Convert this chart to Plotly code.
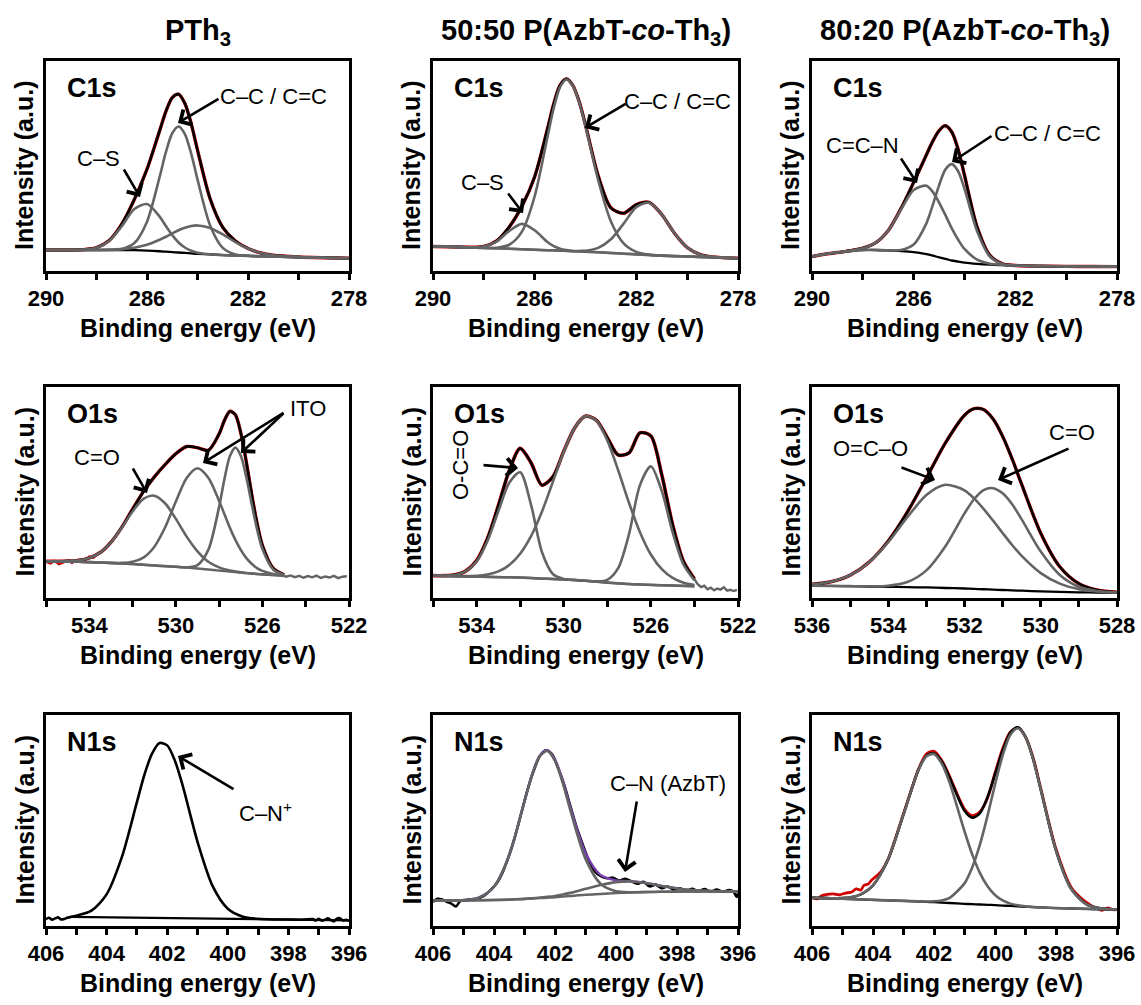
import plotly.graph_objects as go

# ---------------- DATA (y = % of panel height) ----------------
# Panel 1: PTh3 C1s
X1 = [290, 289, 288.5, 288, 287.5, 287, 286.5, 286, 285.5, 285.25, 285, 284.75, 284.5, 284.25, 284, 283.5, 283, 282.5, 282, 281.5, 281, 280, 279, 278]
B1 = [10, 10, 10, 10, 10, 10, 9.9, 9.7, 9.4, 9.2, 9.0, 8.8, 8.6, 8.4, 8.2, 7.9, 7.6, 7.4, 7.2, 7.0, 6.9, 6.6, 6.3, 6.1]
CS1 = [10, 10, 10.2, 11.1, 14.3, 21.3, 29.5, 31.9, 25.9, 21.4, 17.1, 13.6, 11.2, 9.65, 8.74, 7.97, 7.6, 7.4, 7.2, 7.0, 6.9, 6.6, 6.3, 6.1]
CC1 = [10, 10, 10, 10, 10.05, 10.5, 13.3, 23.5, 44.8, 56.7, 65.6, 68.8, 65.2, 55.9, 43.6, 21.7, 11.0, 7.9, 7.25, 7.0, 6.9, 6.6, 6.3, 6.1]
P31 = [10, 10, 10, 10.03, 10.13, 10.43, 11.1, 12.5, 14.9, 16.3, 17.9, 19.4, 20.6, 21.4, 21.7, 20.5, 17.4, 13.8, 10.7, 8.6, 7.5, 6.65, 6.3, 6.1]
E1 = [10, 10, 10.2, 11.1, 14.5, 22.3, 34.1, 48.5, 66.8, 76.0, 82.6, 84.2, 79.8, 70.2, 57.6, 34.4, 20.8, 14.3, 10.75, 8.6, 7.5, 6.65, 6.3, 6.1]

# Panel 2: 50:50 C1s
X2 = [290, 289, 288.5, 288, 287.5, 287, 286.5, 286, 285.5, 285.25, 285, 284.75, 284.5, 284.25, 284, 283.5, 283, 282.5, 282, 281.5, 281, 280.5, 280, 279.5, 279, 278]
B2 = [11.7, 11.4, 11.2, 11.0, 10.8, 10.6, 10.35, 10.1, 9.9, 9.8, 9.7, 9.6, 9.45, 9.35, 9.2, 8.9, 8.6, 8.25, 7.9, 7.6, 7.3, 7.1, 6.9, 6.7, 6.5, 6.1]
CS2 = [11.7, 11.4, 11.3, 11.7, 14.0, 19.1, 22.45, 19.4, 13.8, 11.8, 10.6, 9.94, 9.55, 9.35, 9.2, 8.9, 8.6, 8.25, 7.9, 7.6, 7.3, 7.1, 6.9, 6.7, 6.5, 6.1]
CC2 = [11.7, 11.4, 11.2, 11.0, 11.1, 12.5, 18.75, 35.6, 63.6, 77.6, 87.6, 91.2, 88.25, 80.45, 69.0, 43.2, 23.6, 13.15, 9.1, 7.8, 7.3, 7.1, 6.9, 6.7, 6.5, 6.1]
P32 = [11.7, 11.4, 11.2, 11.0, 10.8, 10.6, 10.35, 10.1, 9.9, 9.8, 9.7, 9.6, 9.45, 9.55, 9.66, 11.0, 15.1, 22.55, 30.4, 32.5, 26.9, 18.0, 11.2, 7.9, 6.73, 6.1]
E2 = [11.7, 11.4, 11.3, 11.7, 14.3, 21.0, 30.9, 44.9, 67.5, 79.6, 88.5, 91.5, 88.4, 80.7, 69.5, 45.3, 30.1, 27.5, 31.6, 32.7, 26.9, 18.0, 11.2, 7.9, 6.7, 6.1]

# Panel 3: 80:20 C1s
X3 = [290, 289.5, 289, 288.5, 288, 287.5, 287, 286.5, 286, 285.5, 285.25, 285, 284.75, 284.5, 284.25, 284, 283.5, 283, 282.5, 282, 281, 280, 279, 278]
B3 = [6.9, 8.0, 8.8, 9.5, 10.0, 10.0, 9.8, 9.5, 9.0, 8.0, 7.3, 6.5, 5.8, 5.0, 4.5, 4.0, 3.4, 3.0, 2.8, 2.6, 2.3, 2.2, 2.15, 2.1]
CCN3 = [6.9, 8.0, 8.82, 9.66, 10.86, 13.4, 19.3, 29.2, 38.6, 40.6, 37.7, 32.6, 26.6, 20.3, 14.9, 10.5, 5.4, 3.46, 2.88, 2.6, 2.3, 2.2, 2.15, 2.1]
CC3 = [6.9, 8.0, 8.8, 9.5, 10.0, 10.0, 9.84, 10.0, 12.6, 22.7, 31.4, 40.8, 48.4, 50.9, 47.5, 39.1, 18.8, 6.9, 3.36, 2.65, 2.3, 2.2, 2.15, 2.1]
E3 = [6.9, 8.0, 8.8, 9.7, 10.9, 13.4, 19.3, 29.7, 42.2, 55.3, 61.8, 66.9, 69.2, 66.2, 57.9, 45.6, 20.8, 7.4, 3.4, 2.65, 2.3, 2.2, 2.15, 2.1]

# Panel 4: PTh3 O1s
X4 = [536, 535.5, 535, 534.5, 534, 533.5, 533, 532.5, 532, 531.5, 531, 530.5, 530, 529.5, 529, 528.5, 528, 527.75, 527.5, 527.25, 527, 526.75, 526.5, 526.25, 526, 525.5, 525]
B4 = [17.4, 17.35, 17.3, 17.15, 17.0, 16.8, 16.6, 16.35, 16.1, 15.75, 15.4, 15.1, 14.8, 14.4, 14.0, 13.5, 13.0, 12.75, 12.5, 12.25, 12.0, 11.8, 11.6, 11.4, 11.2, 10.9, 10.6]
CO4 = [17.41, 17.4, 17.5, 17.83, 18.95, 21.5, 26.3, 33.25, 41.0, 46.95, 48.5, 44.9, 37.5, 29.1, 22.1, 17.2, 14.5, 13.6, 13.0, 12.5, 12.14, 11.87, 11.63, 11.4, 11.2, 10.9, 10.6]
ITO14 = [17.4, 17.35, 17.3, 17.15, 17.0, 16.8, 16.66, 16.63, 17.2, 19.15, 24.2, 33.4, 45.7, 56.9, 61.5, 57.0, 46.0, 39.55, 33.2, 27.55, 22.8, 19.0, 16.2, 14.2, 12.85, 11.4, 10.7]
ITO24 = [17.4, 17.35, 17.3, 17.15, 17.0, 16.8, 16.6, 16.35, 16.1, 15.75, 15.4, 15.1, 14.8, 14.55, 15.6, 22.8, 43.3, 56.65, 67.3, 71.25, 67.4, 57.5, 44.8, 32.7, 23.2, 13.5, 10.9]
E4 = [17.4, 17.4, 17.5, 17.8, 19.0, 21.5, 26.4, 33.5, 42.1, 50.4, 57.3, 63.2, 68.4, 71.8, 71.2, 70.0, 77.8, 84.3, 88.5, 86.8, 78.3, 64.8, 49.4, 35.5, 24.9, 14.0, 11.0]
DLX4 = [536, 535.8, 535.6, 535.4, 535.2, 535, 534.8, 534.6, 534.4, 534.2, 534, 533.8, 533.6, 533.4, 533.2, 533]
DLY4 = [17.2, 16.4, 17.6, 16.1, 16.9, 17.8, 16.6, 17.9, 18.3, 17.7, 19.6, 19.1, 21.3, 22.2, 24.4, 26.8]
DTX4 = [525.3, 525.1, 524.9, 524.7, 524.5, 524.3, 524.1, 523.9, 523.7, 523.5, 523.3, 523.1, 522.9, 522.7, 522.5, 522.3, 522.1]
DTY4 = [12.2, 10.8, 10.1, 10.7, 9.9, 10.5, 9.6, 10.4, 9.8, 10.6, 9.5, 10.2, 9.7, 10.5, 9.4, 10.1, 10.3]

# Panel 5: 50:50 O1s
X5 = [536, 535.5, 535, 534.5, 534, 533.5, 533, 532.5, 532, 531.5, 531, 530.5, 530, 529.5, 529, 528.5, 528, 527.5, 527, 526.5, 526, 525.5, 525, 524.5, 524]
B5 = [10.6, 10.45, 10.3, 10.2, 10.1, 10.0, 9.9, 9.8, 9.7, 9.45, 9.2, 9.0, 8.8, 8.5, 8.2, 7.75, 7.3, 6.95, 6.6, 6.4, 6.2, 6.05, 5.9, 5.75, 5.6]
OCO5 = [10.6, 10.6, 10.9, 12.6, 17.3, 27.0, 41.1, 54.6, 59.6, 44.15, 21.8, 11.4, 9.04, 8.5, 8.2, 7.75, 7.3, 6.95, 6.6, 6.4, 6.2, 6.05, 5.9, 5.75, 5.6]
MAIN5 = [10.6, 10.46, 10.35, 10.35, 10.54, 11.15, 12.6, 15.6, 21.0, 29.35, 40.9, 55.0, 69.3, 80.6, 86.2, 84.05, 74.7, 60.55, 45.0, 31.2, 20.6, 13.65, 9.5, 7.25, 6.2]
TH5 = [10.6, 10.45, 10.3, 10.2, 10.1, 10.0, 9.9, 9.8, 9.7, 9.45, 9.2, 9.0, 8.8, 8.5, 8.21, 7.89, 8.6, 14.15, 30.4, 53.5, 62.4, 50.75, 31.1, 15.75, 8.4]
E5 = [10.6, 10.6, 11.0, 12.75, 17.7, 28.2, 43.8, 60.4, 70.9, 64.1, 53.5, 57.4, 69.5, 80.6, 86.2, 84.2, 76.0, 67.8, 68.8, 78.3, 76.8, 58.4, 34.7, 17.25, 9.0]
DTX5 = [524, 523.85, 523.7, 523.55, 523.4, 523.25, 523.1, 522.95, 522.8, 522.65, 522.5, 522.35, 522.2, 522.05]
DTY5 = [9.0, 6.5, 5.2, 5.8, 4.1, 4.9, 3.6, 4.5, 4.0, 5.1, 3.5, 3.9, 3.3, 3.9]

# Panel 6: 80:20 O1s
X6 = [536, 535.5, 535, 534.5, 534, 533.5, 533, 532.5, 532, 531.75, 531.5, 531.25, 531, 530.75, 530.5, 530, 529.5, 529, 528.5, 528]
B6 = [5.8, 5.7, 5.6, 5.45, 5.3, 5.15, 5.0, 4.75, 4.5, 4.3, 4.15, 3.95, 3.8, 3.6, 3.45, 3.1, 2.9, 2.7, 2.55, 2.4]
OCO6 = [6.46, 7.7, 10.8, 16.95, 26.5, 38.25, 48.8, 53.65, 51.0, 47.2, 42.25, 36.65, 30.8, 25.1, 19.95, 11.8, 6.8, 4.2, 3.07, 2.55]
CO6 = [5.8, 5.7, 5.61, 5.54, 5.84, 7.55, 13.1, 24.55, 40.1, 46.8, 51.15, 52.05, 49.6, 44.4, 37.25, 22.0, 10.9, 5.3, 3.18, 2.52]
E6 = [6.5, 7.7, 10.8, 17.0, 27.0, 40.7, 56.9, 73.5, 86.6, 89.7, 89.3, 84.8, 76.6, 65.9, 53.8, 30.7, 14.8, 6.8, 3.7, 2.7]

# Panel 7: PTh3 N1s
X7 = [406, 405.9, 405.8, 405.7, 405.6, 405.5, 405.4, 405.3, 405.2, 405, 404.5, 404, 403.5, 403, 402.75, 402.5, 402.25, 402, 401.75, 401.5, 401.25, 401, 400.5, 400, 399.5, 399, 398.5, 398, 397.5, 397.2, 397.1, 397, 396.9, 396.8, 396.7, 396.6, 396.5, 396.4, 396.3, 396.2, 396.1, 396]
D7 = [3.2, 3.9, 3.0, 3.6, 4.1, 3.1, 3.3, 3.9, 4.2, 4.9, 7.3, 15.0, 32.5, 58.7, 71.8, 81.7, 86.7, 85.6, 78.5, 67.1, 53.4, 39.9, 18.9, 8.2, 4.4, 3.4, 3.1, 3.05, 3.0, 3.3, 2.6, 3.4, 2.5, 2.9, 3.6, 2.8, 2.2, 3.5, 3.7, 2.6, 2.9, 2.4]
BX7 = [405.2, 396]
BY7 = [4.3, 2.7]

# Panel 8: 50:50 N1s
X8 = [406, 405.5, 405, 404.5, 404, 403.5, 403, 402.75, 402.5, 402.25, 402, 401.75, 401.5, 401, 400.5, 400, 399.5, 399, 398.5, 398, 397.5, 397, 396.5, 396]
B8 = [12.0, 12.05, 12.1, 12.2, 12.3, 12.5, 12.8, 13.0, 13.2, 13.4, 13.6, 13.9, 14.2, 14.8, 15.2, 15.6, 15.9, 16.1, 16.2, 16.3, 16.35, 16.4, 16.4, 16.4]
MAIN8 = [12.0, 12.06, 12.26, 13.44, 18.6, 33.5, 59.1, 71.8, 80.5, 82.9, 78.2, 68.0, 55.0, 31.8, 19.9, 16.45, 16.0, 16.1, 16.2, 16.3, 16.35, 16.4, 16.4, 16.4]
AZ8 = [12.0, 12.05, 12.1, 12.2, 12.3, 12.52, 12.87, 13.13, 13.43, 13.8, 14.25, 14.9, 15.7, 17.6, 19.4, 20.8, 21.1, 20.3, 19.0, 17.8, 17.0, 16.63, 16.47, 16.4]
E8 = [12.0, 12.06, 12.26, 13.44, 18.6, 33.5, 59.2, 71.9, 80.7, 83.3, 78.85, 69.0, 56.5, 34.6, 24.1, 21.65, 21.2, 20.3, 19.0, 17.8, 17.0, 16.63, 16.47, 16.4]
DX8 = [406, 405.85, 405.7, 405.55, 405.4, 405.25, 405.1, 404.95, 404.8, 404.65, 404.5, 404.3, 404.1, 403.9, 403.7, 403.5, 403.3, 403.1, 402.9, 402.7, 402.5, 402.3, 402.1, 401.9, 401.7, 401.5, 401.3, 401.1, 400.9, 400.7, 400.5, 400.3, 400.1, 399.9, 399.7, 399.5, 399.3, 399.1, 398.9, 398.7, 398.5, 398.3, 398.1, 397.9, 397.7, 397.5, 397.3, 397.1, 396.9, 396.7, 396.5, 396.3, 396.15, 396.05, 396]
DY8 = [11.4, 12.9, 12.6, 11.5, 10.6, 9.3, 11.9, 12.0, 12.6, 12.3, 13.2, 14.6, 17.2, 20.5, 26.0, 33.8, 43.0, 53.8, 64.5, 73.5, 80.5, 83.3, 81.5, 75.0, 67.0, 57.0, 47.2, 39.0, 31.5, 26.0, 23.6, 22.6, 22.9, 21.5, 22.4, 21.2, 20.0, 21.0, 18.8, 19.6, 17.9, 18.7, 17.1, 17.9, 16.5, 17.6, 16.4, 17.5, 16.3, 17.3, 16.2, 17.0, 16.4, 13.8, 15.5]

# Panel 9: 80:20 N1s
X9 = [406, 405.5, 405, 404.5, 404, 403.5, 403, 402.5, 402.25, 402, 401.75, 401.5, 401, 400.75, 400.5, 400.25, 400, 399.75, 399.5, 399.25, 399, 398.75, 398.5, 398, 397.5, 397, 396.5, 396]
B9 = [13.4, 13.15, 12.9, 12.65, 12.4, 12.15, 11.9, 11.6, 11.45, 11.3, 11.1, 10.9, 10.5, 10.35, 10.2, 10.05, 9.9, 9.7, 9.5, 9.3, 9.1, 8.95, 8.8, 8.5, 8.3, 8.1, 7.95, 7.8]
L9 = [13.4, 13.2, 13.23, 14.4, 19.3, 31.75, 52.9, 74.3, 80.45, 81.5, 77.1, 68.4, 44.9, 34.05, 25.3, 18.95, 14.7, 12.1, 10.6, 9.79, 9.3, 9.02, 8.8, 8.5, 8.3, 8.1, 7.95, 7.8]
R9 = [13.4, 13.15, 12.9, 12.65, 12.4, 12.15, 11.9, 11.65, 11.6, 11.7, 12.1, 13.25, 20.2, 27.65, 38.3, 51.95, 67.0, 80.8, 90.5, 93.7, 89.5, 79.05, 64.7, 35.7, 17.5, 10.3, 8.32, 7.84]
E9 = [13.4, 13.2, 13.2, 14.4, 19.3, 31.75, 52.9, 74.35, 80.6, 81.9, 78.1, 70.75, 54.6, 51.35, 53.4, 60.85, 71.8, 83.2, 91.6, 94.2, 89.7, 79.1, 64.7, 35.7, 17.5, 10.3, 8.3, 7.85]
DX9 = [406, 405.8, 405.7, 405.5, 405.3, 405.1, 404.9, 404.7, 404.55, 404.4, 404.3, 404.15, 404.05, 403.9, 403.75, 403.5, 403, 402.5, 402.25, 402, 401.75, 401.5, 401, 400.75, 400.5, 400.25, 400, 399.75, 399.5, 399.25, 399, 398.75, 398.5, 398, 397.5, 397.2, 397, 396.8, 396.6, 396.5, 396.4, 396.3, 396.2, 396.1, 396]
DY9 = [13.4, 12.9, 14.2, 15.0, 15.2, 14.8, 15.6, 16.1, 17.6, 17.0, 19.2, 20.0, 21.7, 23.5, 25.5, 31.8, 53.2, 74.6, 81.5, 82.8, 78.6, 71.3, 55.4, 52.3, 54.0, 60.5, 72.5, 84.0, 91.8, 94.0, 89.5, 79.8, 65.2, 36.5, 18.3, 13.5, 11.2, 9.2, 8.0, 7.4, 7.9, 8.6, 8.1, 7.6, 7.9]

COL_TITLES = ["PTh<sub>3</sub>", "50:50 P(AzbT-<i>co</i>-Th<sub>3</sub>)", "80:20 P(AzbT-<i>co</i>-Th<sub>3</sub>)"]
ROW_LABELS = ["C1s", "O1s", "N1s"]
C1S_TICKS = [290, 288, 286, 284, 282, 280, 278]
C1S_TEXT = ["290", "", "286", "", "282", "", "278"]
O1S_TICKS = [536, 534, 532, 530, 528, 526, 524, 522]
O1S_TEXT = ["", "534", "", "530", "", "526", "", "522"]
O1S3_TICKS = [536, 535, 534, 533, 532, 531, 530, 529, 528]
O1S3_TEXT = ["536", "", "534", "", "532", "", "530", "", "528"]
N1S_TICKS = [406, 405, 404, 403, 402, 401, 400, 399, 398, 397, 396]
N1S_TEXT = ["406", "", "404", "", "402", "", "400", "", "398", "", "396"]

# ---------------- LAYOUT ----------------
W, H = 1141, 1005
COLS = [(46, 349), (433, 738), (812, 1117)]
ROWS = [(61, 271), (387, 598), (715, 926)]
FONT = "Liberation Sans, Arial, sans-serif"
BLACK, GRAY, RED, PURPLE = "#000000", "#646464", "#d00000", "#7a3fb0"

fig = go.Figure()


def add(i, x, y, color, width=2.6, shape="spline"):
    fig.add_trace(go.Scatter(x=x, y=y, mode="lines", xaxis=f"x{i}", yaxis=f"y{i}",
                             line=dict(color=color, width=width, shape=shape, smoothing=0.8),
                             showlegend=False, hoverinfo="skip"))

# panel 1
add(1, X1, E1, RED, 3.4); add(1, X1, E1, BLACK); add(1, X1, B1, BLACK, 2.3)
add(1, X1, P31, GRAY); add(1, X1, CS1, GRAY); add(1, X1, CC1, GRAY)
# panel 2
add(2, X2, E2, RED, 3.4); add(2, X2, E2, BLACK); add(2, X2, B2, GRAY, 2.4)
add(2, X2, CS2, GRAY); add(2, X2, CC2, GRAY); add(2, X2, P32, GRAY)
# panel 3
add(3, X3, E3, RED, 3.4); add(3, X3, E3, BLACK); add(3, X3, B3, BLACK, 2.3)
add(3, X3, CCN3, GRAY); add(3, X3, CC3, GRAY)
# panel 4
add(4, DLX4, DLY4, RED, 2.4, "linear"); add(4, X4, E4, RED, 3.4); add(4, X4, E4, BLACK)
add(4, DTX4, DTY4, GRAY, 2.4, "linear")
add(4, X4, B4, GRAY, 2.4); add(4, X4, CO4, GRAY); add(4, X4, ITO14, GRAY); add(4, X4, ITO24, GRAY)
# panel 5
add(5, X5, E5, RED, 3.6); add(5, X5, E5, BLACK); add(5, DTX5, DTY5, GRAY, 2.4, "linear")
add(5, X5, B5, GRAY, 2.4); add(5, X5, OCO5, GRAY); add(5, X5, MAIN5, GRAY); add(5, X5, TH5, GRAY)
# panel 6
add(6, X6, E6, RED, 3.4); add(6, X6, E6, BLACK); add(6, X6, B6, BLACK, 2.3)
add(6, X6, OCO6, GRAY); add(6, X6, CO6, GRAY)
# panel 7
add(7, X7, D7, BLACK, 2.6); add(7, BX7, BY7, BLACK, 2.3, "linear")
# panel 8
add(8, DX8, DY8, BLACK, 2.6); add(8, X8, E8, PURPLE, 2.4)
add(8, X8, B8, GRAY, 2.4); add(8, X8, AZ8, GRAY); add(8, X8, MAIN8, GRAY)
# panel 9
add(9, DX9, DY9, RED, 2.8); add(9, X9, E9, BLACK); add(9, X9, B9, BLACK, 2.3)
add(9, X9, L9, GRAY); add(9, X9, R9, GRAY)

axes_cfg = {
    1: ([290, 278], C1S_TICKS, C1S_TEXT), 2: ([290, 278], C1S_TICKS, C1S_TEXT), 3: ([290, 278], C1S_TICKS, C1S_TEXT),
    4: ([536, 522], O1S_TICKS, O1S_TEXT), 5: ([536, 522], O1S_TICKS, O1S_TEXT), 6: ([536, 528], O1S3_TICKS, O1S3_TEXT),
    7: ([406, 396], N1S_TICKS, N1S_TEXT), 8: ([406, 396], N1S_TICKS, N1S_TEXT), 9: ([406, 396], N1S_TICKS, N1S_TEXT),
}

layout = dict(width=W, height=H, autosize=False,
              margin=dict(l=0, r=0, t=0, b=0, pad=0, autoexpand=False),
              paper_bgcolor="white", plot_bgcolor="white", showlegend=False)
for i in range(1, 10):
    r, c = (i - 1) // 3, (i - 1) % 3
    rng, tv, tt = axes_cfg[i]
    layout[f"xaxis{i}"] = dict(domain=[COLS[c][0] / W, COLS[c][1] / W], anchor=f"y{i}", range=rng,
                               automargin=False,
                               tickmode="array", tickvals=tv, ticktext=tt, ticks="outside", ticklen=6,
                               tickwidth=2.5, tickcolor=BLACK, showline=True, linewidth=3, linecolor=BLACK,
                               mirror=True, showgrid=False, zeroline=False,
                               tickfont=dict(family=FONT, size=22, color=BLACK, weight="bold"))
    layout[f"yaxis{i}"] = dict(domain=[1 - ROWS[r][1] / H, 1 - ROWS[r][0] / H], anchor=f"x{i}", range=[0, 100],
                               automargin=False,
                               showticklabels=False, ticks="", showline=True, linewidth=3, linecolor=BLACK,
                               mirror=True, showgrid=False, zeroline=False)


def P(px, py):
    return px / W, 1 - py / H


ann = []


def text(px, py, s, size=22, bold=False, angle=0, xanchor="center"):
    x, y = P(px, py)
    ann.append(dict(x=x, y=y, xref="paper", yref="paper", text=s, showarrow=False, textangle=angle,
                    xanchor=xanchor, yanchor="middle",
                    font=dict(family=FONT, size=size, color=BLACK, weight="bold" if bold else "normal")))


def arrow(tail, tip):
    x, y = P(*tip)
    ann.append(dict(x=x, y=y, xref="paper", yref="paper", text="", showarrow=True,
                    ax=tail[0] - tip[0], ay=tail[1] - tip[1], axref="pixel", ayref="pixel",
                    arrowhead=4, arrowsize=1.3, arrowwidth=2.6, arrowcolor=BLACK, standoff=0, startstandoff=0))


for c in range(3):
    cx = (COLS[c][0] + COLS[c][1]) / 2
    text(cx, 32, COL_TITLES[c], size=29, bold=True)
    for r in range(3):
        text(cx, ROWS[r][1] + 57, "Binding energy (eV)", size=25, bold=True)
        text(COLS[c][0] - 22, (ROWS[r][0] + ROWS[r][1]) / 2, "Intensity (a.u.)", size=25, bold=True, angle=-90)
        text(COLS[c][0] + 19, ROWS[r][0] + 27, ROW_LABELS[r], size=27, bold=True, xanchor="left")

# panel annotations
text(98, 158, "C–S"); arrow((123, 168), (140, 197))
text(273, 97, "C–C / C=C"); arrow((220, 98), (178, 123))
text(482, 182, "C–S"); arrow((507, 192), (523, 213))
text(677, 102, "C–C / C=C"); arrow((627, 103), (585, 128))
text(863, 145, "C=C–N"); arrow((900, 157), (917, 183))
text(1047, 133, "C–C / C=C"); arrow((993, 135), (952, 162))
text(97, 458, "C=O"); arrow((132, 467), (147, 493))
text(308, 408, "ITO"); arrow((285, 412), (203, 463)); arrow((285, 412), (241, 453))
text(460, 465, "O-C=O", angle=-90); arrow((482, 465), (518, 468))
text(870, 448, "O=C–O"); arrow((900, 467), (935, 480))
text(1072, 433, "C=O"); arrow((1070, 448), (998, 480))
text(265, 812, "C–N<sup>+</sup>"); arrow((235, 790), (178, 756))
text(668, 783, "C–N (AzbT)"); arrow((637, 800), (625, 872))

layout["annotations"] = ann
fig.update_layout(**layout)
fig.write_html("out.html")
